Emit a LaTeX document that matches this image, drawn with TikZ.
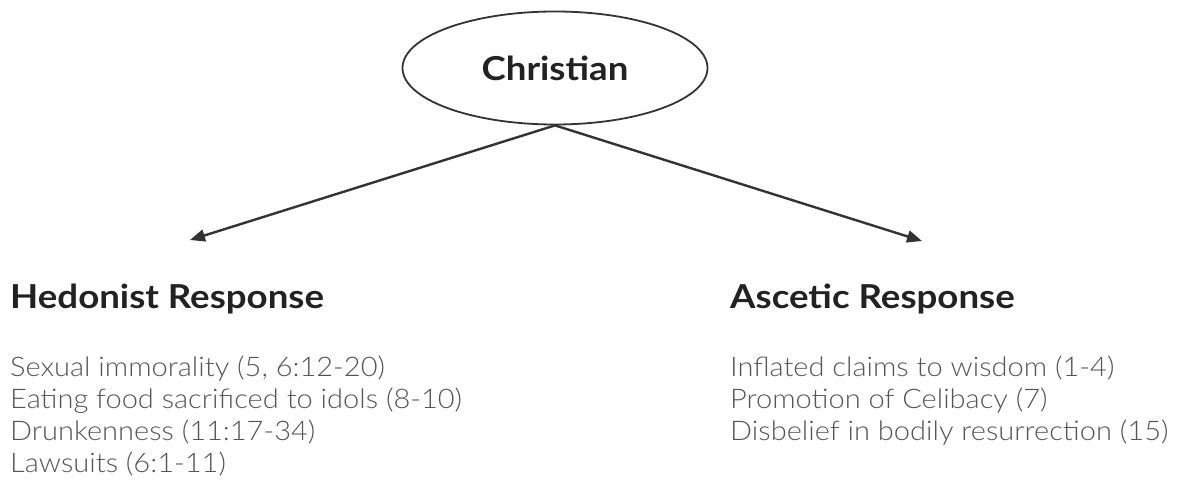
\documentclass[tikz,border=0pt]{standalone}
\usepackage{fontspec}
\setmainfont{Lato}[FakeStretch=1.11]
\newfontfamily\lightfont{Lato Light}[FakeStretch=1.075]
\usetikzlibrary{shapes.geometric,arrows.meta,positioning}

\definecolor{linegray}{HTML}{333333}
\definecolor{headgray}{HTML}{222222}
\definecolor{textgray}{HTML}{555555}

\tikzset{
  heading/.style={anchor=base west,inner sep=0pt,font=\fontsize{33}{38}\selectfont\bfseries,text=headgray},
  itemlist/.style={anchor=north west,inner sep=0pt,align=left,font=\fontsize{27}{32}\selectfont\lightfont,text=textgray},
  branch/.style={linegray,line width=2.4pt,-{Triangle[length=15pt,width=12pt]}}
}

\begin{document}
\begin{tikzpicture}[x=1pt,y=-1pt]
    \useasboundingbox (0,0) rectangle (1177,481);

    % Ellipse oben
    \node[draw=linegray,line width=1.8pt,ellipse,minimum width=305pt,minimum height=113pt,
          font=\fontsize{33}{38}\selectfont\bfseries,text=headgray] (christian) at (555,68) {Christian\hspace{12pt}};

    % Pfeilspitzen
    \coordinate (tipL) at (190,240);
    \coordinate (tipR) at (922,241);
    \draw[branch] (christian.south) -- (tipL);
    \draw[branch] (christian.south) -- (tipR);

    % Ueberschriften
    \node[heading] (hedonist) at (10,308) {Hedonist Response};
    \node[heading] (ascetic) at (730,308) {Ascetic Response};

    % Listen
    \node[itemlist] (hedlist) at (10,356) {Sexual immorality (5, 6:12-20)\\
      Eating food sacrificed to idols (8-10)\\
      Drunkenness (11:17-34)\\
      Lawsuits (6:1-11)};
    \node[itemlist] (asclist) at (730,356) {Inflated claims to wisdom (1-4)\\
      Promotion of Celibacy (7)\\
      Disbelief in bodily resurrection (15)};
\end{tikzpicture}
\end{document}
